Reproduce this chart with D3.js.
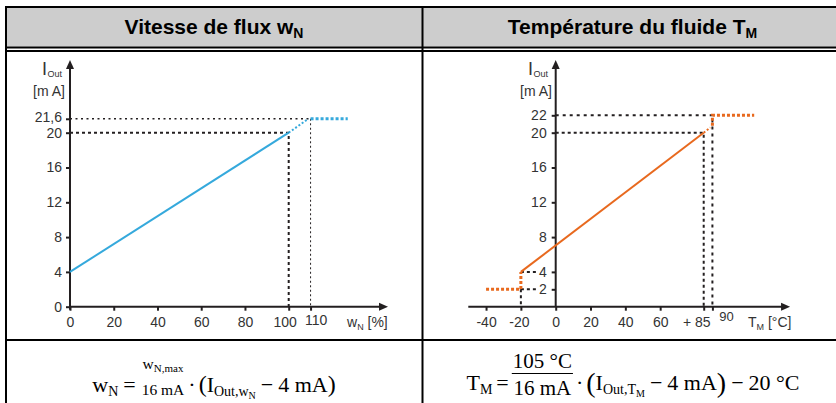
<!DOCTYPE html>
<html><head><meta charset="utf-8">
<script src="https://cdn.jsdelivr.net/npm/d3@7"></script>
<style>html,body{margin:0;padding:0;background:#fff;} svg{display:block} text{white-space:pre}</style>
</head><body><svg id="c" width="836" height="403"></svg>
<script>
// ---------- data ----------
const flowYTicks = [0, 4, 8, 12, 16, 20, 21.6];
const flowYLabels = ["0", "4", "8", "12", "16", "20", "21,6"];
const flowXTicks = [0, 20, 40, 60, 80, 100, 110];
const flowXLabels = ["0", "20", "40", "60", "80", "100", "110"];
const flowSolid = [[0, 4], [100, 20]];
const flowTransition = [[100, 20], [109, 21.6]];
const flowSaturation = [[110, 21.6], [127, 21.6]];
const flowGuide20 = [[0, 20], [100, 20], [100, 0]];
const flowGuide216 = [[0, 21.6], [110, 21.6]];
const flowGuide110 = [[110, 21.6], [110, 0]];
const flowAxisMax = [145.4, 28.35];

const tempYTicks = [2, 4, 8, 12, 16, 20, 22];
const tempYLabels = ["2", "4", "8", "12", "16", "20", "22"];
const tempXTicks = [-40, -20, 0, 20, 40, 60, 85, 90];
const tempXLabels = ["-40", "-20", "0", "20", "40", "60", "+ 85", "90"];
const tempSolid = [[-20, 4], [85, 20]];
const tempTransition = [[85, 20], [88.8, 20.6]];
const tempHigh = [[90, 20.8], [90, 22], [114, 22]];
const tempLow = [[-40, 2], [-20, 2], [-20, 4]];
const tempGuide22 = [[0, 22], [90, 22], [90, 0]];
const tempGuide20 = [[0, 20], [85, 20], [85, 0]];
const tempGuide4 = [[-20, 4], [-11, 4]];
const tempGuide2 = [[-20, 2], [-11, 2]];
const tempGuideM20 = [[-20, 2], [-20, 0]];
const tempAxisMin = -50.2, tempAxisMax = [134.6, 28.35];

const titles = ["Vitesse de flux w", "Température du fluide T"];
const titleSubs = ["N", "M"];

// ---------- setup ----------
const svg = d3.select("#c");
const INK = "#231f20";
const SANS = "'Liberation Sans', Arial, sans-serif";
const SERIF = "'Liberation Serif', 'Times New Roman', serif";
const BLUE = "#35a9dc", ORANGE = "#e8691e";

// table frame
svg.append("rect").attr("x", 6).attr("y", 7).attr("width", 830).attr("height", 39.7).attr("fill", "#cdcdcd");
svg.append("rect").attr("x", 5).attr("y", 6).attr("width", 831).attr("height", 2).attr("fill", "#000");
svg.append("rect").attr("x", 5).attr("y", 46.5).attr("width", 831).attr("height", 2).attr("fill", "#000");
svg.append("rect").attr("x", 5).attr("y", 50).attr("width", 831).attr("height", 2).attr("fill", "#000");
svg.append("rect").attr("x", 5).attr("y", 339).attr("width", 831).attr("height", 2).attr("fill", "#000");
svg.append("rect").attr("x", 5).attr("y", 6).attr("width", 2).attr("height", 397).attr("fill", "#000");
svg.append("rect").attr("x", 421.5).attr("y", 6).attr("width", 2).attr("height", 397).attr("fill", "#000");

// titles
[214, 632.5].forEach((cx, i) => {
  const t = svg.append("text").attr("x", cx).attr("y", 34).attr("text-anchor", "middle")
    .attr("font-family", SANS).attr("font-weight", "bold").attr("font-size", 21).attr("fill", "#000");
  t.append("tspan").text(titles[i]);
  t.append("tspan").attr("font-size", 14).attr("dy", 3.5).text(titleSubs[i]);
});

function styleAxis(g) {
  g.select(".domain").remove();
  g.selectAll(".tick line").attr("stroke", INK).attr("stroke-width", 2);
  g.selectAll(".tick text").attr("font-family", SANS).attr("font-size", 14).attr("fill", "#333");
}
function arrowUp(x, y) {
  svg.append("path").attr("d", `M${x},${y}L${x - 4},${y + 9}L${x + 4},${y + 9}Z`).attr("fill", INK);
}
function arrowRight(x, y) {
  svg.append("path").attr("d", `M${x},${y}L${x - 9},${y - 4}L${x - 9},${y + 4}Z`).attr("fill", INK);
}
function axisLabelY(x0, xs) {
  const t = svg.append("text").attr("x", x0).attr("y", 75).attr("font-family", SANS).attr("fill", "#333");
  t.append("tspan").attr("font-size", 18).text("I");
  t.append("tspan").attr("font-size", 9).attr("dy", 1.5).attr("dx", 0.5).text("Out");
  svg.append("text").attr("x", xs).attr("y", 95.5).attr("font-family", SANS).attr("font-size", 14)
    .attr("fill", "#333").text("[m A]");
}
function axisLabelX(x0, main, sub, unit) {
  const t = svg.append("text").attr("x", x0).attr("y", 327).attr("font-family", SANS).attr("fill", "#333");
  t.append("tspan").attr("font-size", 14).text(main);
  t.append("tspan").attr("font-size", 9).attr("dy", 2.5).text(sub);
  t.append("tspan").attr("font-size", 14).attr("dy", -2.5).text(unit);
}
function path(data, x, y, color, width, dash) {
  const p = svg.append("path").datum(data)
    .attr("d", d3.line().x(d => x(d[0])).y(d => y(d[1])))
    .attr("fill", "none").attr("stroke", color).attr("stroke-width", width);
  if (dash) p.attr("stroke-dasharray", dash);
  return p;
}

// ---------- left chart: flow ----------
{
  const x = d3.scaleLinear().domain([0, 100]).range([70, 288.7]);
  const y = d3.scaleLinear().domain([0, 20]).range([306.7, 132.7]);

  path(flowGuide20, x, y, INK, 2, "3,3");
  path(flowGuide216, x, y, INK, 1.6, "2,3.5");
  path(flowGuide110, x, y, INK, 1, "2,2.5");

  const ax = svg.append("g").attr("transform", `translate(0,${y(0)})`)
    .call(d3.axisBottom(x).tickValues(flowXTicks).tickFormat((d, i) => flowXLabels[i]).tickSize(4).tickPadding(6));
  styleAxis(ax);
  ax.selectAll(".tick text").filter(d => d === 100).attr("dx", -4);
  ax.selectAll(".tick text").filter(d => d === 110).attr("dx", 5).attr("dy", "0.58em");
  const ay = svg.append("g").attr("transform", `translate(${x(0)},0)`)
    .call(d3.axisLeft(y).tickValues(flowYTicks).tickFormat((d, i) => flowYLabels[i]).tickSize(4).tickPadding(4));
  styleAxis(ay);
  ay.selectAll(".tick text").filter(d => d === 21.6).attr("dy", "0.22em");
  ay.selectAll(".tick text").filter(d => d === 20).attr("dy", "0.36em");

  svg.append("line").attr("x1", x(0)).attr("x2", x(flowAxisMax[0]) - 5).attr("y1", y(0)).attr("y2", y(0))
    .attr("stroke", INK).attr("stroke-width", 2);
  svg.append("line").attr("x1", x(0)).attr("x2", x(0)).attr("y1", y(0) + 3).attr("y2", y(flowAxisMax[1]) + 5)
    .attr("stroke", INK).attr("stroke-width", 2);
  arrowUp(x(0), y(flowAxisMax[1]));
  arrowRight(x(flowAxisMax[0]), y(0));

  path(flowSolid, x, y, BLUE, 2);
  path(flowTransition, x, y, BLUE, 2, "2,2");
  path(flowSaturation, x, y, BLUE, 3, "3,2");

  axisLabelY(42, 33);
  axisLabelX(347, "w", "N", " [%]");
}

// ---------- right chart: temperature ----------
{
  const x = d3.scaleLinear().domain([0, 85]).range([555.7, 703.7]);
  const y = d3.scaleLinear().domain([0, 20]).range([306.7, 132.7]);

  path(tempGuide22, x, y, INK, 2, "3,4");
  path(tempGuide20, x, y, INK, 2, "3,3");
  path(tempGuide4, x, y, INK, 2, "3,3");
  path(tempGuide2, x, y, INK, 2, "3,3");
  path(tempGuideM20, x, y, INK, 2, "3,3");

  const ax = svg.append("g").attr("transform", `translate(0,${y(0)})`)
    .call(d3.axisBottom(x).tickValues(tempXTicks).tickFormat((d, i) => tempXLabels[i]).tickSize(4).tickPadding(6));
  styleAxis(ax);
  ax.selectAll(".tick text").filter(d => d === -20).attr("dx", -2);
  ax.selectAll(".tick text").filter(d => d === 85).attr("dx", -7.5);
  ax.selectAll(".tick text").filter(d => d === 90).attr("dx", 13.5).attr("dy", "0.35em").attr("font-size", 13);
  const ay = svg.append("g").attr("transform", `translate(${x(0)},0)`)
    .call(d3.axisLeft(y).tickValues(tempYTicks).tickFormat((d, i) => tempYLabels[i]).tickSize(4).tickPadding(5));
  styleAxis(ay);

  svg.append("line").attr("x1", x(tempAxisMin)).attr("x2", x(tempAxisMax[0]) - 5).attr("y1", y(0)).attr("y2", y(0))
    .attr("stroke", INK).attr("stroke-width", 2);
  svg.append("line").attr("x1", x(0)).attr("x2", x(0)).attr("y1", y(0)).attr("y2", y(tempAxisMax[1]) + 5)
    .attr("stroke", INK).attr("stroke-width", 2);
  arrowUp(x(0), y(tempAxisMax[1]));
  arrowRight(x(tempAxisMax[0]), y(0));

  path(tempSolid, x, y, ORANGE, 2);
  path(tempTransition, x, y, ORANGE, 2, "2,2");
  path(tempHigh, x, y, ORANGE, 3, "3,2");
  path(tempLow, x, y, ORANGE, 3, "3,2");

  axisLabelY(528, 520);
  axisLabelX(748, "T", "M", " [°C]");
}

// ---------- formulas ----------
function flow(g, x, base, items) {
  for (const it of items) {
    if (it.gap) { x += it.gap; continue; }
    if (it.frac) {
      const gn = g.append("g"), gd = g.append("g");
      const wn = flow(gn, 0, it.numY, it.num), wd = flow(gd, 0, it.denY, it.den);
      const w = Math.max(wn, wd) + (it.pad || 0) * 2;
      gn.attr("transform", `translate(${x + (w - wn) / 2},0)`);
      gd.attr("transform", `translate(${x + (w - wd) / 2},0)`);
      if (it.barY) g.append("line").attr("x1", x).attr("x2", x + w).attr("y1", it.barY).attr("y2", it.barY)
        .attr("stroke", "#000").attr("stroke-width", 1);
      x += w;
      continue;
    }
    const t = g.append("text").attr("x", x).attr("y", base + (it.dy || 0))
      .attr("font-family", SERIF).attr("font-size", it.s).attr("fill", "#000").text(it.t);
    x += t.node().getComputedTextLength();
  }
  return x;
}
function formula(cx, base, items) {
  const g = svg.append("g");
  const w = flow(g, 0, base, items);
  g.attr("transform", `translate(${cx - w / 2},0)`);
}
formula(214, 392, [
  { t: "w", s: 22 }, { t: "N", s: 14, dy: 4 }, { gap: 5 },
  { t: "=", s: 22 }, { gap: 5 },
  { frac: true, num: [{ t: "w", s: 15.5 }, { t: "N,max", s: 11, dy: 2.5 }], den: [{ t: "16 mA", s: 15.5 }],
    numY: 369, denY: 395, pad: 1 },
  { gap: 3 }, { t: "·", s: 22 }, { gap: 3 },
  { t: "(", s: 24 }, { t: "I", s: 22 }, { t: "Out,w", s: 14, dy: 4 }, { t: "N", s: 10, dy: 6.5 }, { gap: 5 },
  { t: "−", s: 22 }, { gap: 5 }, { t: "4 mA", s: 22 }, { t: ")", s: 24 }
]);
formula(633, 390, [
  { t: "T", s: 22 }, { t: "M", s: 14, dy: 4 }, { gap: 4 },
  { t: "=", s: 22 }, { gap: 3 },
  { frac: true, num: [{ t: "105 °C", s: 21 }], den: [{ t: "16 mA", s: 21 }],
    numY: 368, denY: 395, barY: 373.5, pad: 1 },
  { gap: 3 }, { t: "·", s: 22 }, { gap: 3 },
  { t: "(", s: 28, dy: 2 }, { t: "I", s: 22 }, { t: "Out,T", s: 14, dy: 4 }, { t: "M", s: 10, dy: 6.5 }, { gap: 5 },
  { t: "−", s: 22 }, { gap: 5 }, { t: "4 mA", s: 22 }, { t: ")", s: 28, dy: 2 }, { gap: 5 },
  { t: "−", s: 22 }, { gap: 5 }, { t: "20 °C", s: 22 }
]);
</script></body></html>
